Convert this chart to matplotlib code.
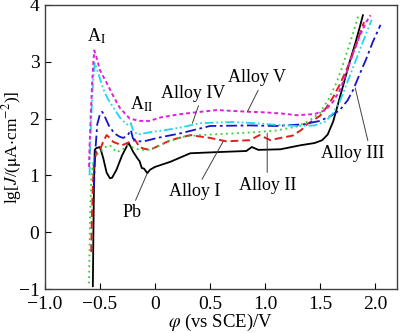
import matplotlib.pyplot as plt

plt.rcParams['font.family'] = ['Liberation Serif', 'DejaVu Serif']
plt.rcParams['mathtext.fontset'] = 'stix'

# Polarisation curves: potential (V vs SCE) and lg J
pb_x = [-0.565, -0.56, -0.555, -0.548, -0.535, -0.50, -0.47, -0.44, -0.41, -0.39, -0.35, -0.30,
        -0.26, -0.24, -0.22, -0.20, -0.18, -0.16, -0.14, -0.12, -0.10, -0.07, -0.045, 0.0, 0.14,
        0.32, 0.56, 0.83, 0.88, 0.94, 1.14, 1.32, 1.45, 1.52, 1.57, 1.62, 1.67, 1.72, 1.77, 1.82,
        1.86, 1.89]
pb_y = [-0.95, 0.0, 0.8, 1.45, 1.48, 1.5, 1.3, 1.05, 0.95, 0.96, 1.1, 1.35, 1.5, 1.57, 1.5,
        1.42, 1.36, 1.3, 1.25, 1.13, 1.12, 1.04, 1.1, 1.15, 1.24, 1.39, 1.41, 1.43, 1.5, 1.45,
        1.46, 1.53, 1.57, 1.62, 1.72, 1.95, 2.3, 2.65, 3.0, 3.32, 3.6, 3.82]

alloy1_x = [-0.58, -0.575, -0.565, -0.555, -0.53, -0.5, -0.47, -0.44, -0.41, -0.38, -0.3,
            -0.23, -0.18, -0.14, -0.1, -0.045, 0.14, 0.32, 0.5, 0.65, 0.86, 0.95, 1.05, 1.14,
            1.25, 1.33, 1.38, 1.44, 1.5, 1.56, 1.62, 1.68, 1.75, 1.82, 1.9]
alloy1_y = [-0.35, 0.2, 0.8, 1.25, 1.41, 1.45, 1.6, 1.71, 1.66, 1.59, 1.53, 1.59, 1.62, 1.5,
            1.47, 1.45, 1.62, 1.71, 1.66, 1.6, 1.62, 1.71, 1.62, 1.66, 1.7, 1.8, 1.9, 1.97,
            2.05, 2.2, 2.38, 2.6, 2.9, 3.25, 3.7]

alloy2_x = [-0.6, -0.595, -0.59, -0.58, -0.565, -0.54, -0.5, -0.45, -0.41, -0.35, -0.3,
            -0.25, -0.2, -0.14, -0.045, 0.1, 0.25, 0.41, 0.71, 0.9, 1.1, 1.29, 1.4, 1.5,
            1.58, 1.65, 1.7, 1.75, 1.8, 1.85]
alloy2_y = [-0.9, -0.3, 0.3, 0.9, 1.2, 1.35, 1.41, 1.5, 1.53, 1.41, 1.45, 1.53, 1.49, 1.45,
            1.45, 1.58, 1.68, 1.71, 1.74, 1.76, 1.79, 1.86, 1.96, 2.1, 2.35, 2.63, 2.9, 3.2,
            3.5, 3.82]

alloy3_x = [-0.555, -0.55, -0.54, -0.525, -0.5, -0.48, -0.46, -0.42, -0.37, -0.32, -0.29,
            -0.25, -0.22, -0.2, -0.16, -0.1, 0.02, 0.23, 0.5, 0.86, 1.1, 1.35, 1.5, 1.6, 1.68,
            1.75, 1.8, 1.86, 1.92, 1.98, 2.05]
alloy3_y = [0.78, 1.1, 1.5, 1.9, 2.08, 2.12, 2.05, 1.88, 1.74, 1.68, 1.66, 1.7, 1.8, 1.65,
            1.6, 1.6, 1.66, 1.74, 1.87, 1.88, 1.87, 1.9, 1.96, 2.05, 2.15, 2.32, 2.5, 2.78,
            3.05, 3.35, 3.65]

alloy4_x = [-0.595, -0.59, -0.58, -0.565, -0.548, -0.53, -0.5, -0.47, -0.43, -0.38, -0.32,
            -0.27, -0.24, -0.22, -0.2, -0.16, -0.1, -0.045, 0.1, 0.25, 0.41, 0.7, 0.9, 1.1,
            1.3, 1.45, 1.55, 1.62, 1.68, 1.73, 1.78, 1.83, 1.88, 1.93, 1.97]
alloy4_y = [1.0, 1.5, 2.0, 2.6, 2.98, 2.88, 2.7, 2.52, 2.35, 2.2, 2.02, 1.92, 1.88, 1.92,
            1.8, 1.72, 1.74, 1.76, 1.8, 1.85, 1.92, 1.94, 1.92, 1.89, 1.87, 1.88, 1.95, 2.1,
            2.3, 2.55, 2.8, 3.05, 3.3, 3.55, 3.74]

alloy5_x = [-0.6, -0.595, -0.585, -0.572, -0.56, -0.552, -0.535, -0.5, -0.44, -0.38, -0.32,
            -0.23, -0.14, -0.05, 0.05, 0.2, 0.32, 0.56, 0.86, 1.0, 1.15, 1.29, 1.45, 1.55,
            1.62, 1.68, 1.74, 1.8, 1.86, 1.92, 1.96]
alloy5_y = [1.15, 1.5, 2.0, 2.6, 3.0, 3.2, 3.1, 2.85, 2.63, 2.4, 2.19, 2.0, 1.96, 1.96, 2.02,
            2.07, 2.1, 2.15, 2.12, 2.11, 2.09, 2.06, 2.08, 2.15, 2.3, 2.5, 2.8, 3.15, 3.45,
            3.7, 3.82]

fig = plt.figure(figsize=(4.0, 3.33), dpi=100)
ax = fig.add_axes([0.1125, 0.132, 0.88, 0.853])

ax.plot(pb_x, pb_y, color='black', lw=1.3, ls='-')
ax.plot(alloy1_x, alloy1_y, color='#e02020', lw=1.4, ls=(0, (4, 2)))
ax.plot(alloy2_x, alloy2_y, color='#30d030', lw=1.3, ls=(0, (1, 2)))
ax.plot(alloy3_x, alloy3_y, color='#1414c8', lw=1.3, ls=(0, (6, 2, 1.5, 2)))
ax.plot(alloy4_x, alloy4_y, color='#20d8e8', lw=1.3, ls=(0, (5, 1.5, 1, 1.5, 1, 1.5)))
ax.plot(alloy5_x, alloy5_y, color='#e020e0', lw=1.4, ls=(0, (2, 1.5)))

ax.set_xlim(-1.0, 2.2)
ax.set_ylim(-1, 4)
ax.set_xticks([-1.0, -0.5, 0, 0.5, 1.0, 1.5, 2.0])
ax.set_xticklabels(['\u22121.0', '\u22120.5', '0', '0.5', '1.0', '1.5', '2.0'])
ax.set_yticks([-1, 0, 1, 2, 3, 4])
ax.set_yticklabels(['\u22121', '0', '1', '2', '3', '4'])
ax.tick_params(direction='in', labelsize=14, length=4, width=0.8, top=False, right=False)
ax.tick_params(axis='x', pad=5)
ax.tick_params(axis='y', pad=4)
for s in ax.spines.values():
    s.set_color('#404040')
    s.set_linewidth(1.0)

ax.set_xlabel(r'$\varphi$ (vs SCE)/V', fontsize=13.5, labelpad=-1)
ax.set_ylabel(r'lg[$J$/($\mathrm{\mu}$A$\cdot$cm$^{-2}$)]', fontsize=12.5)
ax.yaxis.set_label_coords(-0.06, 0.5)

# peak labels
ax.text(-0.53, 3.28, r'A$_\mathrm{I}$', fontsize=13, ha='center', va='bottom')
ax.text(-0.12, 2.08, r'A$_\mathrm{II}$', fontsize=13, ha='center', va='bottom')

# curve labels with leader lines
lc = '#404040'
fs = 13
ax.annotate('Alloy V', xy=(0.84, 2.12), xytext=(0.93, 2.72), fontsize=fs, ha='center',
            va='center', arrowprops=dict(arrowstyle='-', color=lc, lw=0.7, shrinkA=1, shrinkB=0,
                                         relpos=(0.55, 0.0)))
ax.annotate('Alloy IV', xy=(0.34, 1.92), xytext=(0.35, 2.45), fontsize=fs, ha='center',
            va='center', arrowprops=dict(arrowstyle='-', color=lc, lw=0.7, shrinkA=1, shrinkB=0,
                                         relpos=(0.6, 0.0)))
ax.annotate('Alloy I', xy=(0.62, 1.6), xytext=(0.36, 0.71), fontsize=fs, ha='center',
            va='center', arrowprops=dict(arrowstyle='-', color=lc, lw=0.7, shrinkA=1, shrinkB=0,
                                         relpos=(0.6, 1.0)))
ax.annotate('Alloy II', xy=(1.02, 1.74), xytext=(1.02, 0.83), fontsize=fs, ha='center',
            va='center', arrowprops=dict(arrowstyle='-', color=lc, lw=0.7, shrinkA=1, shrinkB=0,
                                         relpos=(0.5, 1.0)))
ax.annotate('Alloy III', xy=(1.82, 2.54), xytext=(1.8, 1.39), fontsize=fs, ha='center',
            va='center', arrowprops=dict(arrowstyle='-', color=lc, lw=0.7, shrinkA=1,
                                         shrinkB=0, relpos=(0.75, 1.0)))
ax.annotate('Pb', xy=(-0.07, 1.04), xytext=(-0.21, 0.34), fontsize=fs, ha='center',
            va='center', arrowprops=dict(arrowstyle='-', color=lc, lw=0.7, shrinkA=1, shrinkB=0,
                                         relpos=(0.6, 1.0)))

fig.savefig('out.png', dpi=100)
